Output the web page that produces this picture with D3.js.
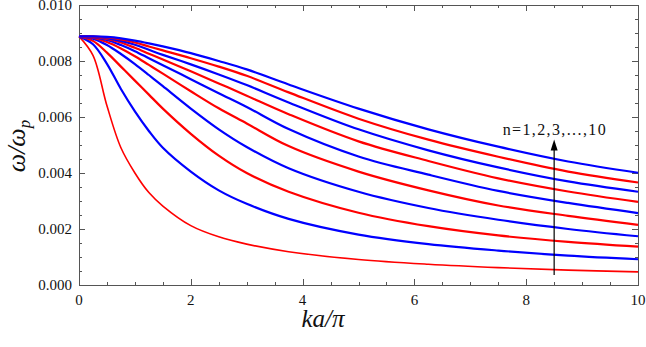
<!DOCTYPE html>
<html>
<head>
<meta charset="utf-8">
<script src="https://cdn.jsdelivr.net/npm/d3@7"></script>
<style>
  html, body { margin: 0; padding: 0; background: #fff; }
  svg { display: block; }
</style>
</head>
<body>
<svg id="chart" width="646" height="347"></svg>
<script>
// x values (ka/pi)
const kaPi = [0, 0.25, 0.5, 0.75, 1, 1.25, 1.5, 2, 2.5, 3, 3.75, 5, 6.25, 7.5, 8.75, 10];
// omega/omega_p for n = 1..10
const n1  = [0.00888, 0.0082, 0.0064, 0.0049, 0.0040, 0.0033, 0.00282, 0.00212, 0.00172, 0.00146, 0.00119, 0.00091, 0.00074, 0.00062, 0.00053, 0.00047];
const n2  = [0.00888, 0.0086, 0.0079, 0.0070, 0.0062, 0.0055, 0.00490, 0.00405, 0.00338, 0.00290, 0.00236, 0.00180, 0.00146, 0.00123, 0.00105, 0.00092];
const n3  = [0.00888, 0.00872, 0.0083, 0.0078, 0.0073, 0.0068, 0.0063, 0.0054, 0.00462, 0.00400, 0.00333, 0.00258, 0.00210, 0.00177, 0.00154, 0.00137];
const n4  = [0.00888, 0.0088, 0.00857, 0.00825, 0.00789, 0.0075, 0.0071, 0.0063, 0.00556, 0.00493, 0.00417, 0.00333, 0.00275, 0.00233, 0.00200, 0.00174];
const n5  = [0.00888, 0.00883, 0.00868, 0.00845, 0.00817, 0.00786, 0.00755, 0.00692, 0.00631, 0.00577, 0.00496, 0.00405, 0.00338, 0.00284, 0.00247, 0.00215];
const n6  = [0.00888, 0.00885, 0.00875, 0.00857, 0.00835, 0.0081, 0.00785, 0.00735, 0.00685, 0.00636, 0.00557, 0.00459, 0.00394, 0.00336, 0.00293, 0.00257];
const n7  = [0.00888, 0.00886, 0.00879, 0.00866, 0.00847, 0.00826, 0.00805, 0.00763, 0.0072, 0.00676, 0.0061, 0.00513, 0.00443, 0.00381, 0.00334, 0.00297];
const n8  = [0.00888, 0.00887, 0.00882, 0.00872, 0.00858, 0.0084, 0.00822, 0.00788, 0.00752, 0.00714, 0.00652, 0.00556, 0.00481, 0.0042, 0.0037, 0.00333];
const n9  = [0.00888, 0.00887, 0.00884, 0.00877, 0.00866, 0.00852, 0.00838, 0.0081, 0.0078, 0.00747, 0.00688, 0.00594, 0.00519, 0.00458, 0.00405, 0.00366];
const n10 = [0.00888, 0.00888, 0.00886, 0.00881, 0.00873, 0.00863, 0.00852, 0.00828, 0.008, 0.0077, 0.00716, 0.0063, 0.00556, 0.00494, 0.00441, 0.00401];
const seriesList = [n1, n2, n3, n4, n5, n6, n7, n8, n9, n10];
const xTicks = [0, 2, 4, 6, 8, 10];
const yTicks = [0, 0.002, 0.004, 0.006, 0.008, 0.010];
const xMinor = d3.range(0, 10.001, 0.5);
const yMinor = d3.range(0, 0.01001, 0.0005);
const arrowX = 8.5, arrowY0 = 0.00036, arrowY1 = 0.0052;
const label = "n=1,2,3,...,10";

const FONT = "Liberation Serif";
const svg = d3.select("#chart").attr("font-family", FONT);
const L = 79, R = 638, T = 5, B = 285;
const x = d3.scaleLinear().domain([0, 10]).range([L, R]);
const y = d3.scaleLinear().domain([0, 0.010]).range([B, T]);

const axisColor = "#555";
// frame
svg.append("rect").attr("x", L + 0.5).attr("y", T + 0.5).attr("width", R - L).attr("height", B - T)
  .attr("fill", "none").attr("stroke", axisColor).attr("stroke-width", 1);

// ticks (inward, all four sides)
const tickG = svg.append("g").attr("stroke", axisColor).attr("stroke-width", 1);
const isMajorX = v => Math.abs(v / 2 - Math.round(v / 2)) < 1e-6;
const isMajorY = v => Math.abs(v / 0.002 - Math.round(v / 0.002)) < 1e-6;
xMinor.forEach(v => {
  const len = isMajorX(v) ? 6 : 3;
  const px = Math.round(x(v)) + 0.5;
  tickG.append("line").attr("x1", px).attr("x2", px).attr("y1", B).attr("y2", B - len);
  tickG.append("line").attr("x1", px).attr("x2", px).attr("y1", T).attr("y2", T + len);
});
yMinor.forEach(v => {
  const len = isMajorY(v) ? 6 : 3;
  const py = Math.round(y(v)) + 0.5;
  tickG.append("line").attr("x1", L).attr("x2", L + len).attr("y1", py).attr("y2", py);
  tickG.append("line").attr("x1", R).attr("x2", R - len).attr("y1", py).attr("y2", py);
});

function txt(sel) {
  return sel.attr("font-family", FONT).attr("fill", "#111");
}

// tick labels
txt(svg.append("g").selectAll("text").data(xTicks).join("text"))
  .attr("x", d => x(d)).attr("y", 305).attr("text-anchor", "middle")
  .attr("font-size", 15).text(d => d3.format("d")(d));
txt(svg.append("g").selectAll("text").data(yTicks).join("text"))
  .attr("x", 72).attr("y", d => y(d) + 5).attr("text-anchor", "end")
  .attr("font-size", 15).text(d => d3.format(".3f")(d));

// curves
const line = d3.line().x(d => x(d[0])).y(d => y(d[1])).curve(d3.curveCatmullRom.alpha(0.5));
const plot = svg.append("g");
seriesList.forEach((s, i) => {
  const pts = kaPi.map((k, j) => [k, s[j]]);
  plot.append("path").attr("d", line(pts)).attr("fill", "none")
    .attr("stroke", i % 2 === 0 ? "#ff0000" : "#0000ff")
    .attr("stroke-width", i === 0 ? 1.6 : 2.2)
    .attr("stroke-linejoin", "round");
});

// arrow
const ax = x(arrowX);
svg.append("line").attr("x1", ax).attr("x2", ax).attr("y1", y(arrowY0)).attr("y2", y(arrowY1) + 8)
  .attr("stroke", "#000").attr("stroke-width", 1.2);
svg.append("path")
  .attr("d", `M${ax},${y(arrowY1)} L${ax - 3.5},${y(arrowY1) + 11} L${ax + 3.5},${y(arrowY1) + 11} Z`)
  .attr("fill", "#000");
txt(svg.append("text")).attr("x", ax).attr("y", 135).attr("text-anchor", "middle")
  .attr("font-size", 16).attr("textLength", 103).attr("lengthAdjust", "spacing").text(label);

// axis titles
txt(svg.append("text")).attr("x", 323).attr("y", 327).attr("text-anchor", "middle")
  .attr("font-size", 25).attr("font-style", "italic").text("ka/π");
const yt = txt(svg.append("text")).attr("transform", "translate(25,146) rotate(-90)")
  .attr("text-anchor", "middle").attr("font-size", 26).attr("font-style", "italic");
yt.append("tspan").text("ω/ω");
yt.append("tspan").attr("font-size", 17).attr("dy", 5).text("p");
</script>
</body>
</html>
